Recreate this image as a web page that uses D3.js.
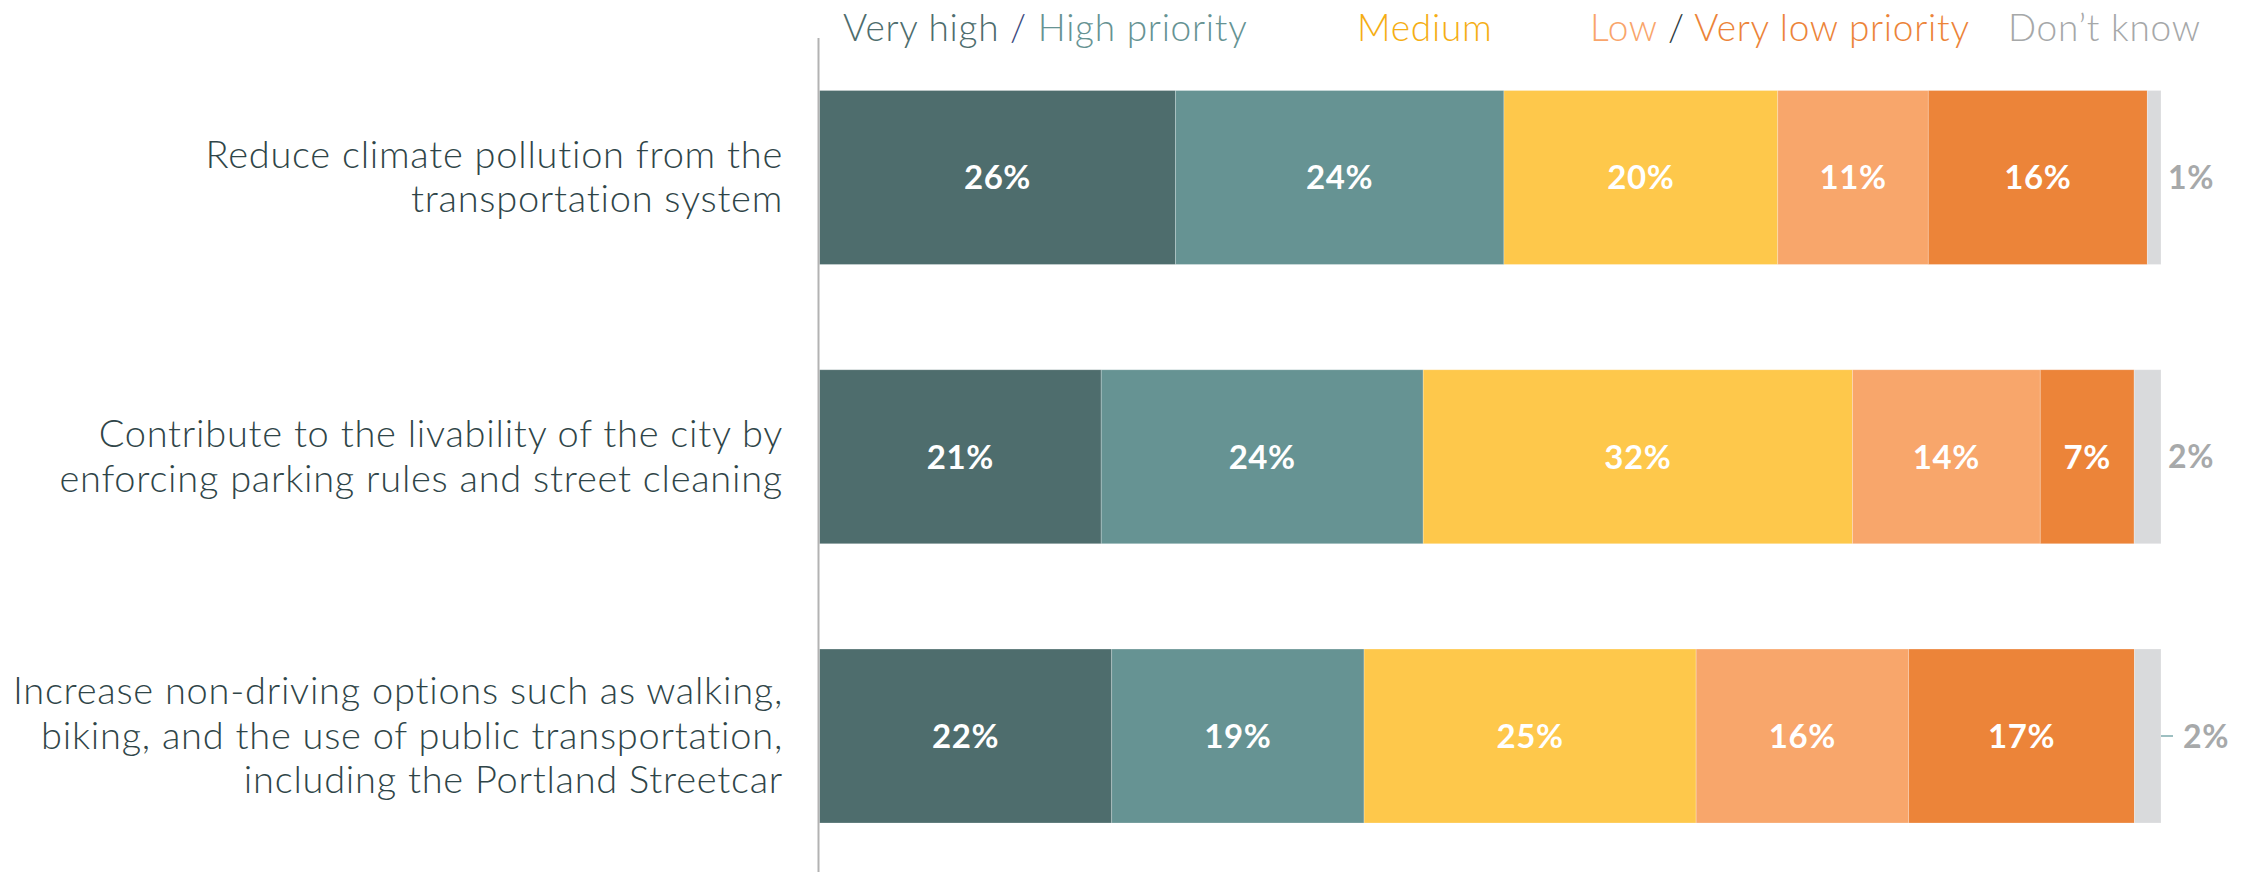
<!DOCTYPE html>
<html>
<head>
<meta charset="utf-8">
<script src="https://cdn.jsdelivr.net/npm/d3@7"></script>
<style>
  html, body { margin: 0; padding: 0; background: #fff; }
  svg { display: block; }
  text { font-family: Lato, "Open Sans", sans-serif; }
</style>
</head>
<body>
<svg id="chart" width="2256" height="872"></svg>
<script>
// Survey items (each wrapped onto its display lines)
const categories = [
  "Reduce climate pollution from the transportation system",
  "Contribute to the livability of the city by enforcing parking rules and street cleaning",
  "Increase non-driving options such as walking, biking, and the use of public transportation, including the Portland Streetcar"
];
const categoryLines = [
  ["Reduce climate pollution from the", "transportation system"],
  ["Contribute to the livability of the city by", "enforcing parking rules and street cleaning"],
  ["Increase non-driving options such as walking,", "biking, and the use of public transportation,", "including the Portland Streetcar"]
];

// Response levels, in stacking order
const levels = ["Very high", "High", "Medium", "Low", "Very low", "Don't know"];

// Percent of respondents per level, one array per level (same order as categories)
const veryHigh = [26, 21, 22];
const high     = [24, 24, 19];
const medium   = [20, 32, 25];
const low      = [11, 14, 16];
const veryLow  = [16, 7, 17];
const dontKnow = [1, 2, 2];

// Legend pieces: [text, colour key]
const legendItems = [
  [["Very high", "Very high"], [" / ", "slash1"], ["High priority", "High"]],
  [["Medium", "MediumText"]],
  [["Low", "Low"], [" / ", "slash2"], ["Very low priority", "Very low"]],
  [["Don\u2019t know", "DKText"]]
];

// ---- build table for the stack layout
const table = categories.map((c, i) => ({
  category: c,
  "Very high": veryHigh[i],
  "High": high[i],
  "Medium": medium[i],
  "Low": low[i],
  "Very low": veryLow[i],
  "Don't know": dontKnow[i]
}));

const colors = {
  "Very high": "#4e6d6d",
  "High": "#669393",
  "Medium": "#fec84b",
  "Low": "#f8a66b",
  "Very low": "#ec8439",
  "Don't know": "#d9dadc"
};
const legendColors = {
  "Very high": "#4e6d6d",
  "slash1": "#3b4a80",
  "High": "#669393",
  "MediumText": "#f5ae14",
  "Low": "#f9a56b",
  "slash2": "#2d3b3f",
  "Very low": "#ec8439",
  "DKText": "#a6a8a9"
};

const svg = d3.select("#chart");

const x = d3.scaleLinear().domain([0, 1]).range([819.5, 2161]);
const y = d3.scaleBand()
  .domain(categories)
  .range([90.5, 823])
  .paddingInner(0.377)
  .paddingOuter(0);

const series = d3.stack()
  .keys(levels)
  .offset(d3.stackOffsetExpand)(table);

// ---- bars
const groups = svg.append("g")
  .selectAll("g")
  .data(series)
  .join("g")
  .attr("fill", s => colors[s.key]);

groups.selectAll("rect")
  .data(s => s.map(d => Object.assign(d, { key: s.key })))
  .join("rect")
  .attr("x", d => x(d[0]))
  .attr("y", d => y(d.data.category))
  .attr("width", d => x(d[1]) - x(d[0]))
  .attr("height", y.bandwidth())
  .attr("stroke", "rgba(255,255,255,0.3)")
  .attr("stroke-width", 0.8);

// ---- value labels inside bars
const inside = series.filter(s => s.key !== "Don't know");
svg.append("g")
  .selectAll("g")
  .data(inside)
  .join("g")
  .selectAll("text")
  .data(s => s)
  .join("text")
  .attr("x", d => (x(d[0]) + x(d[1])) / 2)
  .attr("y", d => y(d.data.category) + y.bandwidth() / 2)
  .attr("dy", "0.36em")
  .attr("text-anchor", "middle")
  .attr("fill", "#fff")
  .attr("font-weight", 700)
  .attr("font-size", 33)
  .attr("letter-spacing", 0.6)
  .text(d => d.data[d.key] + "%");

// ---- "Don't know" labels to the right of the bars
const dk = series.find(s => s.key === "Don't know");
const outer = svg.append("g");
dk.forEach((d, i) => {
  const cy = y(d.data.category) + y.bandwidth() / 2;
  const withLeader = i === categories.length - 1;
  if (withLeader) {
    outer.append("line")
      .attr("x1", x(d[1])).attr("x2", x(d[1]) + 12)
      .attr("y1", cy).attr("y2", cy)
      .attr("stroke", "#9dbfc1").attr("stroke-width", 2);
  }
  outer.append("text")
    .attr("x", x(d[1]) + (withLeader ? 22 : 7))
    .attr("y", cy)
    .attr("dy", "0.36em")
    .attr("fill", "#a7a9aa")
    .attr("font-weight", 700)
    .attr("font-size", 32)
    .attr("letter-spacing", 0.8)
    .text(d.data["Don't know"] + "%");
});

// ---- category labels (y axis)
const lineH = 44.5;
const catG = svg.append("g");
categories.forEach((c, i) => {
  const lines = categoryLines[i];
  const cy = y(c) + y.bandwidth() / 2;
  const t = catG.append("text")
    .attr("text-anchor", "end")
    .attr("fill", "#2f4548")
    .attr("font-weight", 300)
    .attr("font-size", 38)
    .attr("letter-spacing", 0.75);
  lines.forEach((ln, j) => {
    t.append("tspan")
      .attr("x", 783)
      .attr("y", cy + (j - (lines.length - 1) / 2) * lineH + 12.5)
      .text(ln);
  });
});

// ---- vertical axis line
svg.append("line")
  .attr("x1", 818.5).attr("x2", 818.5)
  .attr("y1", 38).attr("y2", 872)
  .attr("stroke", "#b3b3b3").attr("stroke-width", 2);

// ---- legend
const legendX = [843, 1357, 1590, 2008];
const legG = svg.append("g");
legendItems.forEach((item, i) => {
  const t = legG.append("text")
    .attr("x", legendX[i])
    .attr("y", 40.5)
    .attr("font-weight", 300)
    .attr("font-size", 37)
    .attr("letter-spacing", 0.75)
    .attr("xml:space", "preserve")
    .style("white-space", "pre");
  item.forEach(([txt, k]) => {
    t.append("tspan").attr("fill", legendColors[k]).text(txt);
  });
});
</script>
</body>
</html>
